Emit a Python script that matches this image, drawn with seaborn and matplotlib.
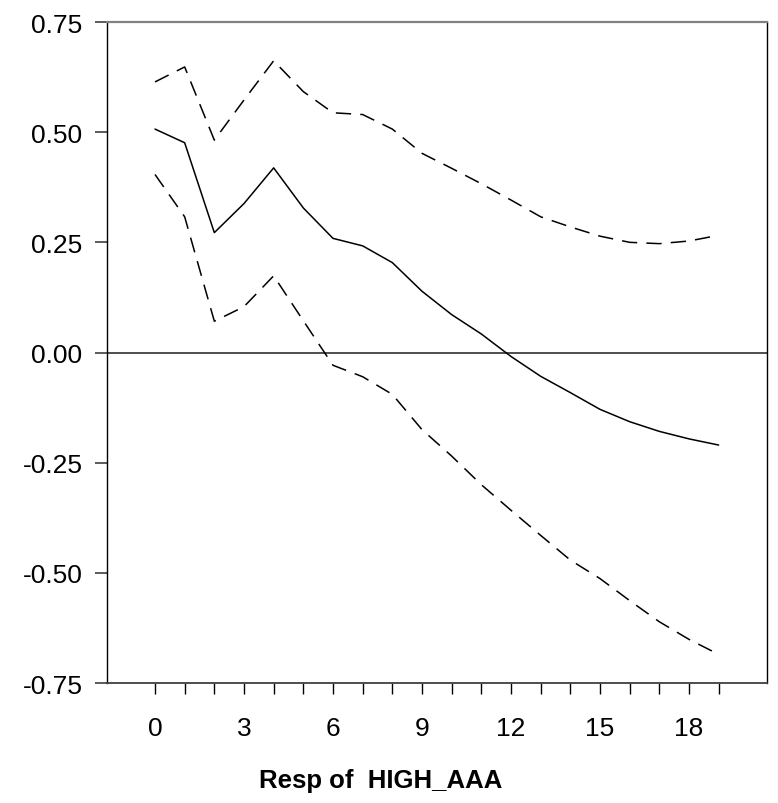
import numpy as np
import pandas as pd
import seaborn as sns
import matplotlib.pyplot as plt

# Impulse response values
steps = list(range(20))
resp = [0.507, 0.476, 0.272, 0.338, 0.419, 0.328, 0.259, 0.242, 0.204, 0.139,
        0.086, 0.042, -0.009, -0.054, -0.091, -0.129, -0.157, -0.179, -0.196, -0.210]
upper = [0.614, 0.648, 0.482, 0.573, 0.662, 0.592, 0.544, 0.540, 0.507, 0.452,
         0.418, 0.383, 0.346, 0.308, 0.285, 0.264, 0.250, 0.247, 0.253, 0.266]
lower = [0.404, 0.308, 0.071, 0.104, 0.174, 0.072, -0.029, -0.055, -0.095, -0.175,
         -0.235, -0.300, -0.358, -0.415, -0.471, -0.513, -0.563, -0.611, -0.651, -0.685]
yticks = [-0.75, -0.50, -0.25, 0.00, 0.25, 0.50, 0.75]
xlabel_text = "Resp of  HIGH_AAA"

df = pd.DataFrame({"step": steps, "resp": resp, "upper": upper, "lower": lower})

sns.set_style("white")
plt.rcParams['font.family'] = ['Liberation Sans', 'DejaVu Sans']
plt.rcParams['text.color'] = 'black'
plt.rcParams['xtick.color'] = 'black'
plt.rcParams['ytick.color'] = 'black'

fig = plt.figure(figsize=(7.78, 8.04), dpi=100)
ax = fig.add_axes([107 / 778, 1 - 684 / 804, 660 / 778, 661 / 804])

ax.axhline(0, color='#404040', linewidth=1.3, zorder=1)
sns.lineplot(data=df, x="step", y="resp", color="black", linewidth=1.1, ax=ax)
for col in ["upper", "lower"]:
    sns.lineplot(data=df, x="step", y=col, color="black", linewidth=1.1,
                 linestyle=(0, (10, 6)), ax=ax)

ax.set_xlim(-1.618, 20.63)
ax.set_ylim(-0.75, 0.75)
ax.set_xticks(steps)
ax.set_xticklabels([str(s) if s % 3 == 0 else "" for s in steps])
ax.set_yticks(yticks)
ax.set_yticklabels([f"{v:.2f}" for v in yticks])
ax.tick_params(axis='x', bottom=True, direction='out', length=8, width=1,
               color='black', labelcolor='black', labelsize=19, pad=16)
ax.tick_params(axis='y', left=True, direction='out', length=8.6, width=1.2,
               color='#404040', labelcolor='black', labelsize=19, pad=9)
ax.set_xlabel("")
ax.set_ylabel("")

ax.spines['top'].set_color('#808080')
ax.spines['top'].set_linewidth(1.6)
ax.spines['bottom'].set_color('#404040')
ax.spines['bottom'].set_linewidth(1.3)
ax.spines['left'].set_color('black')
ax.spines['left'].set_linewidth(1.0)
ax.spines['right'].set_color('black')
ax.spines['right'].set_linewidth(1.0)

fig.text(381 / 778, 1 - 788 / 804, xlabel_text, ha='center', va='baseline',
         fontsize=18.5, fontweight='bold', color='black')

fig.savefig("out.png", dpi=100)
